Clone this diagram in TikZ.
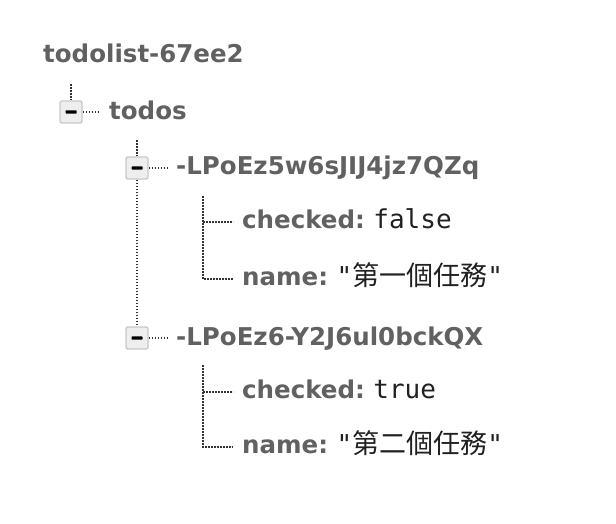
\documentclass[tikz,border=0pt]{standalone}
\usepackage{fontspec}
\setmainfont{DejaVu Sans}
\setmonofont{DejaVu Sans Mono}
\newfontfamily\cjkfont{Noto Sans CJK TC}
\definecolor{keygray}{HTML}{616161}
\definecolor{valblack}{HTML}{212121}
\definecolor{boxfill}{HTML}{EEEEEE}
\definecolor{boxline}{HTML}{C8C8C8}
\newcommand{\val}[1]{{\mdseries\ttfamily\fontsize{26}{30}\selectfont\color{valblack}#1}}
\newcommand{\cjkval}[1]{{\mdseries\cjkfont\fontsize{27}{30}\selectfont\color{valblack}#1}}
\tikzset{
  key/.style={anchor=west, inner sep=0pt, text height=17pt, text depth=5pt,
    font=\fontsize{24.5}{28}\selectfont\bfseries, text=keygray},
  toggle/.style={draw=boxline, fill=boxfill, line width=1.4pt, rounded corners=2pt,
    minimum size=22pt, inner sep=0pt,
    path picture={\fill[black, rounded corners=0.6pt] ([xshift=-5.5pt,yshift=-1.6pt]path picture bounding box.center)
      rectangle ([xshift=5.5pt,yshift=1.6pt]path picture bounding box.center);}},
  link/.style={line width=2pt, dash pattern=on 1.6pt off 1.4pt, black!80},
}
\begin{document}
\begin{tikzpicture}[x=1pt,y=-1pt]
    \useasboundingbox (0,0) rectangle (616,524);
    % root and its child
    \node[key] (root) at (43,57) {todolist-67ee2};
    \coordinate (d0) at (71,84);
    \node[toggle] (tg0) at (71,112) {};
    \node[key] (todos) at (109,114) {todos};
    \draw[link] (d0) -- (tg0.north);
    \draw[link, shorten >=9pt] (tg0.east) -- (tg0.east -| todos.west);
    % first task
    \coordinate (d1) at (137,140);
    \node[toggle] (tg1) at (137,168) {};
    \node[key] (task1) at (176,169) {-LPoEz5w6sJIJ4jz7QZq};
    \draw[link] (d1) -- (tg1.north);
    \draw[link, shorten >=9pt] (tg1.east) -- (tg1.east -| task1.west);
    \coordinate (e1) at (203,196);
    \node[key] (checked1) at (242,222) {checked:\ \val{false}};
    \node[key] (name1) at (242,279) {name:\ \val{"}\cjkval{第一個任務}\val{"}};
    \draw[link, shorten >=9pt] (e1) |- (name1.west);
    \draw[link, shorten >=9pt] (e1 |- checked1.west) -- (checked1.west);
    % second task
    \node[toggle] (tg2) at (137,338) {};
    \node[key] (task2) at (176,339) {-LPoEz6-Y2J6ul0bckQX};
    \draw[link] (tg1.south) -- (tg2.north);
    \draw[link, shorten >=9pt] (tg2.east) -- (tg2.east -| task2.west);
    \coordinate (e2) at (203,365);
    \node[key] (checked2) at (242,392) {checked:\ \val{true}};
    \node[key] (name2) at (242,447) {name:\ \val{"}\cjkval{第二個任務}\val{"}};
    \draw[link, shorten >=9pt] (e2) |- (name2.west);
    \draw[link, shorten >=9pt] (e2 |- checked2.west) -- (checked2.west);
\end{tikzpicture}
\end{document}
